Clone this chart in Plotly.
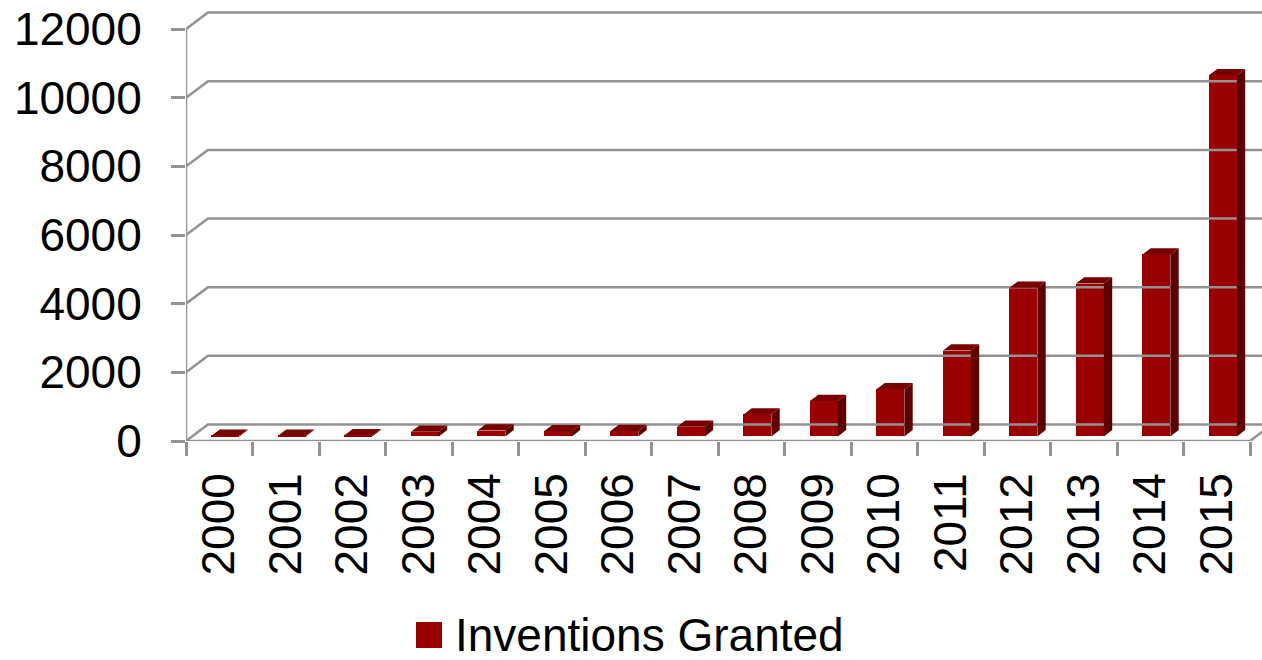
import plotly.graph_objects as go

years = [str(y) for y in range(2000, 2016)]
granted = [15, 20, 35, 135, 170, 150, 160, 280, 640, 1030, 1370, 2500, 4330, 4450, 5300, 10520]
y_ticks = [0, 2000, 4000, 6000, 8000, 10000, 12000]
series_name = "Inventions Granted"

FRONT = "#9a0000"
TOP = "#780000"
SIDE = "#5c0000"
GRID = "#929292"
FONT = "Liberation Sans"

# oblique "3D" projection: depth offsets in data units
DX = 0.33      # category units per full depth
DY = 480       # value units per full depth
dF, dD = 0.28, 0.38   # bar front depth and bar depth (fractions)
W = 0.42       # bar width
n = len(years)
xs = list(range(n))
XMAX = -0.5 + 1076 / 66.5
YMAX = 12700

fig = go.Figure()

# back wall gridlines + floor
for v in y_ticks:
    fig.add_trace(go.Scatter(
        x=[-0.5, -0.5 + DX, XMAX], y=[v, v + DY, v + DY], mode="lines",
        line=dict(color=GRID, width=2.5), hoverinfo="skip", showlegend=False))
# floor front and right edges, y axis line
fig.add_trace(go.Scatter(
    x=[-0.5, n - 0.5, n - 0.5 + DX], y=[0, 0, DY], mode="lines",
    line=dict(color=GRID, width=2.5), hoverinfo="skip", showlegend=False))
fig.add_trace(go.Scatter(
    x=[-0.5, -0.5], y=[0, y_ticks[-1]], mode="lines",
    line=dict(color=GRID, width=2.5), hoverinfo="skip", showlegend=False))

base = dF * DY
xoff = dF * DX
ddx, ddy = dD * DX, dD * DY

# front faces
fig.add_trace(go.Bar(
    x=[x + xoff for x in xs], y=granted, base=[base] * n, width=W,
    marker=dict(color=FRONT, line=dict(width=0)), name=series_name, showlegend=False))

# top and side faces
tx, ty, sx, sy = [], [], [], []
for x, v in zip(xs, granted):
    x0 = x + xoff - W / 2
    x1 = x + xoff + W / 2
    t = base + v
    tx += [x0, x1, x1 + ddx, x0 + ddx, x0, None]
    ty += [t, t, t + ddy, t + ddy, t, None]
    sx += [x1, x1, x1 + ddx, x1 + ddx, x1, None]
    sy += [base, t, t + ddy, base + ddy, base, None]
fig.add_trace(go.Scatter(x=sx, y=sy, fill="toself", fillcolor=SIDE, mode="lines",
                         line=dict(width=0, color=SIDE), hoverinfo="skip", showlegend=False))
fig.add_trace(go.Scatter(x=tx, y=ty, fill="toself", fillcolor=TOP, mode="lines",
                         line=dict(width=0, color=TOP), hoverinfo="skip", showlegend=False))

fig.update_layout(
    width=1262, height=660,
    margin=dict(l=186, r=0, t=5, b=219),
    plot_bgcolor="white", paper_bgcolor="white",
    font=dict(family=FONT, size=46, color="black"),
    bargap=0,
    xaxis=dict(
        range=[-0.5, XMAX], tickmode="array", tickvals=xs, ticktext=years,
        tickangle=-90, ticks="", showgrid=False, zeroline=False, showline=False,
        ticklabelstandoff=22,
        minor=dict(tickmode="array", tickvals=[i - 0.5 for i in range(n + 1)],
                   ticks="outside", ticklen=14, tickwidth=2.5, tickcolor=GRID, showgrid=False),
    ),
    yaxis=dict(
        range=[0, YMAX], tickmode="array", tickvals=y_ticks,
        ticktext=[str(v) for v in y_ticks],
        ticks="outside", ticklen=14, tickwidth=2.5, tickcolor=GRID,
        showgrid=False, zeroline=False, showline=False, ticklabelstandoff=20,
    ),
)

# legend (manual so the key square can match the reference size)
fig.add_shape(type="rect", xref="paper", yref="paper",
              x0=(416 - 186) / 1076, x1=(442 - 186) / 1076,
              y0=(441 - 648) / 436, y1=(441 - 622) / 436,
              fillcolor=FRONT, line=dict(width=0))
fig.add_annotation(text=series_name, xref="paper", yref="paper",
                   x=(453 - 186) / 1076, y=(441 - 635) / 436,
                   xanchor="left", yanchor="middle", showarrow=False,
                   font=dict(family=FONT, size=46, color="black"))

fig.write_html("out.html")
